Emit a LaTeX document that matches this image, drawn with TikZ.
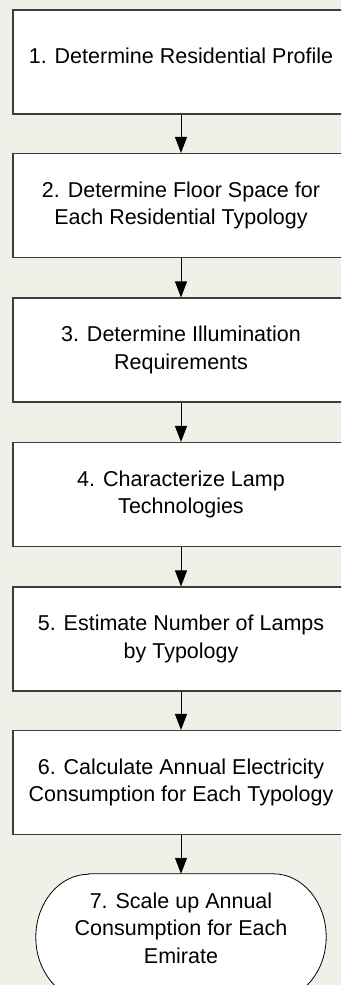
\documentclass[tikz,border=0pt]{standalone}
\usepackage{fontspec}
\setmainfont{Liberation Sans}
\usetikzlibrary{arrows.meta}
\definecolor{bgcol}{RGB}{241,240,232}
\definecolor{edgecol}{RGB}{60,60,60}
\begin{document}
\begin{tikzpicture}[x=1pt,y=1pt,
  stepbox/.style={draw=edgecol, line width=1.1pt, fill=white, minimum width=336pt, minimum height=104pt, inner sep=0pt, align=center, font=\fontsize{21.5}{27.5}\selectfont},
  lbl/.style={align=center, font=\fontsize{21.5}{27.5}\selectfont, inner sep=0pt},
  termbox/.style={minimum width=290pt, minimum height=126pt, inner sep=0pt},
  flow/.style={draw=black, line width=0.9pt, -{Triangle[length=16pt,width=12pt]}}]
\useasboundingbox (0,0) rectangle (341,-985);
\fill[bgcol] (0,0) rectangle (341,-985);
\clip (0,0) rectangle (341,-985);
\node[stepbox, text depth=12pt] (b1) at (181,-62) {1. Determine Residential Profile};
\node[stepbox] (b2) at (181,-205.5) {2. Determine Floor Space for\\Each Residential Typology};
\node[stepbox] (b3) at (181,-350) {3. Determine Illumination\\Requirements};
\node[stepbox] (b4) at (181,-494.5) {4. Characterize Lamp\\Technologies};
\node[stepbox] (b5) at (181,-639) {5. Estimate Number of Lamps\\by Typology};
\node[stepbox] (b6) at (181,-782.5) {6. Calculate Annual Electricity\\Consumption for Each Typology};
\node[termbox] (b7) at (181,-937) {};
\draw[black, line width=0.8pt, fill=white]
  ([xshift=53pt]b7.north west) -- ([xshift=-53pt]b7.north east)
  arc[start angle=90, end angle=-90, x radius=53pt, y radius=63pt]
  -- ([xshift=53pt]b7.south west)
  arc[start angle=270, end angle=90, x radius=53pt, y radius=63pt] -- cycle;
\node[lbl] (t7) at (181,-928) {7. Scale up Annual\\Consumption for Each\\Emirate};
\draw[flow] (b1.south) -- (b2.north);
\draw[flow] (b2.south) -- (b3.north);
\draw[flow] (b3.south) -- (b4.north);
\draw[flow] (b4.south) -- (b5.north);
\draw[flow] (b5.south) -- (b6.north);
\draw[flow] (b6.south) -- (b7.north);
\end{tikzpicture}
\end{document}
